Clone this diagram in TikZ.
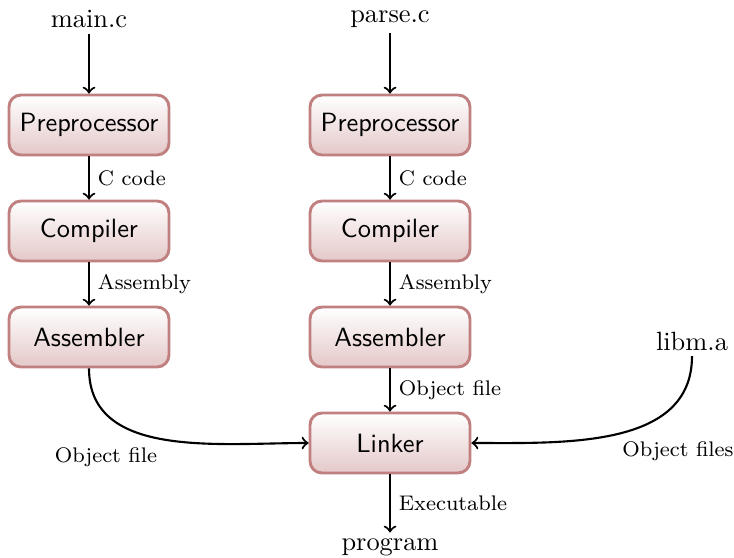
\documentclass[tikz,border=0pt]{standalone}
\usetikzlibrary{arrows}
\definecolor{boxborder}{RGB}{192,128,128}
\definecolor{boxbottom}{RGB}{228,200,200}
\tikzset{
  stage/.style={draw=boxborder, line width=1.1pt, rounded corners=4.5pt,
    top color=white, bottom color=boxbottom,
    minimum width=60.6pt, minimum height=22.7pt, font=\sffamily},
  file/.style={inner sep=2pt},
  arr/.style={->, thick},
  lbl/.style={font=\footnotesize, inner sep=3pt},
}
\begin{document}
\begin{tikzpicture}[x=0.3788pt, y=-0.3788pt]
\useasboundingbox (0,0) rectangle (734,558);

% source files
\node[file] (mainc) at (89,19) {main.c};
\node[file] (parsec) at (390,19) {parse.c};

% left pipeline
\node[stage] (pre1) at (89,125) {Preprocessor};
\node[stage] (cc1)  at (89,231) {Compiler};
\node[stage] (as1)  at (89,337) {Assembler};

% right pipeline
\node[stage] (pre2) at (390,125) {Preprocessor};
\node[stage] (cc2)  at (390,231) {Compiler};
\node[stage] (as2)  at (390,337) {Assembler};

% linking
\node[stage] (link) at (390,443) {Linker};
\node[file] (lib)  at (692,341) {libm.a};
\node[file] (prog) at (390,547) {program};

\draw[arr] (mainc) -- (pre1);
\draw[arr] (pre1) -- node[lbl, right] {C code} (cc1);
\draw[arr] (cc1) -- node[lbl, right] {Assembly} (as1);

\draw[arr] (parsec) -- (pre2);
\draw[arr] (pre2) -- node[lbl, right] {C code} (cc2);
\draw[arr] (cc2) -- node[lbl, right] {Assembly} (as2);
\draw[arr] (as2) -- node[lbl, right] {Object file} (link);

\draw[arr] (as1.south) to[out=-90, in=180] (link.west);
\node[lbl] (objl) at (106,457) {Object file};
\draw[arr] (lib.south) to[out=-90, in=0] (link.east);
\node[lbl] (objr) at (678,451) {Object files};

\draw[arr] (link) -- node[lbl, right] {Executable} (prog);
\end{tikzpicture}
\end{document}
